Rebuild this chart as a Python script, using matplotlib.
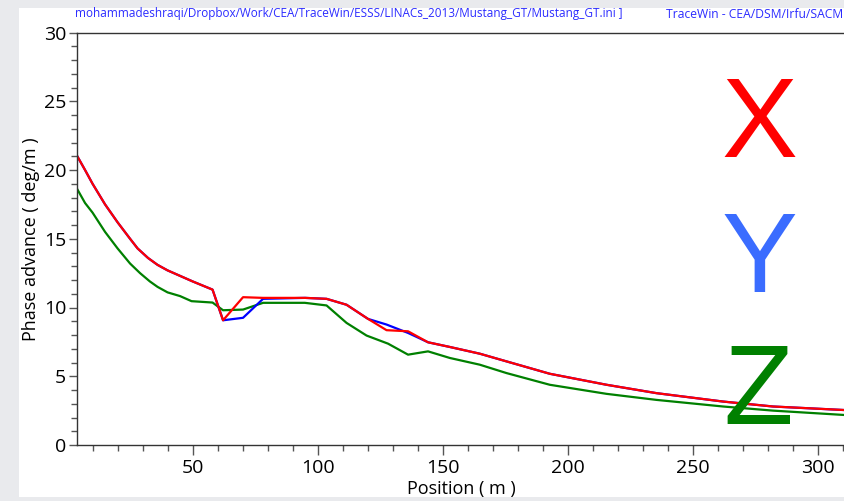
import matplotlib
matplotlib.use('Agg')
import matplotlib.pyplot as plt
import matplotlib.ticker as ticker
from matplotlib.patches import Rectangle

# phase advance per plane
pos_x = [3.9, 7, 10, 15, 20, 25, 28, 32.2, 36, 40, 45, 50, 58, 62.2, 70.2, 78.2, 95, 103.6,
         111.6, 120.2, 127.6, 136.2, 144.2, 152.9, 164.9, 175.6, 192.9, 215.6, 235.6,
         262.2, 282.2, 311]
phase_x = [21.0, 20.0, 19.0, 17.5, 16.2, 15.0, 14.3, 13.6, 13.1, 12.7, 12.3, 11.9, 11.3,
           9.07, 10.75, 10.7, 10.7, 10.63, 10.2, 9.17, 8.35, 8.27, 7.47, 7.13, 6.64, 6.08,
           5.18, 4.38, 3.77, 3.16, 2.80, 2.54]

pos_y = [3.9, 7, 10, 15, 20, 25, 28, 32.2, 36, 40, 45, 50, 58, 62.2, 70.2, 78.2, 95, 103.6,
         111.6, 120.2, 127.6, 136.2, 144.2, 152.9, 164.9, 175.6, 192.9, 215.6, 235.6,
         262.2, 282.2, 311]
phase_y = [21.0, 20.0, 19.0, 17.5, 16.2, 15.0, 14.3, 13.6, 13.1, 12.7, 12.3, 11.9, 11.3,
           9.07, 9.25, 10.63, 10.7, 10.63, 10.2, 9.17, 8.76, 8.15, 7.47, 7.13, 6.64, 6.08,
           5.18, 4.38, 3.77, 3.16, 2.80, 2.54]

pos_z = [3.9, 7, 10, 15, 20, 25, 29, 32.9, 36, 40, 45, 49.6, 58, 62.2, 70.2, 78.2, 94.9,
         103.6, 111.6, 119.6, 128.2, 136.2, 144.2, 152.9, 164.9, 175.6, 192.9, 215.6,
         235.6, 262.2, 282.2, 311]
phase_z = [18.6, 17.6, 16.9, 15.5, 14.3, 13.2, 12.5, 11.9, 11.5, 11.1, 10.83, 10.46, 10.36,
           9.80, 9.85, 10.34, 10.34, 10.15, 8.88, 7.96, 7.37, 6.57, 6.81, 6.33, 5.84, 5.23,
           4.38, 3.72, 3.28, 2.80, 2.50, 2.18]

header_left = 'mohammadeshraqi/Dropbox/Work/CEA/TraceWin/ESSS/LINACs_2013/Mustang_GT/Mustang_GT.ini ]'
header_right = 'TraceWin - CEA/DSM/Irfu/SACM'

W, H = 844, 501
fig = plt.figure(figsize=(W / 100, H / 100), dpi=100, facecolor='#e9eaed')
# white panel of the screenshot
fig.patches.append(Rectangle((19 / W, 1 - 497 / H), 1, (497 - 8) / H,
                             transform=fig.transFigure, facecolor='white',
                             edgecolor='none', zorder=-1))

x0, x1 = 77.3, 846
ax = fig.add_axes([x0 / W, 1 - 445 / H, (x1 - x0) / W, (445 - 32.5) / H])
ax.set_zorder(2)
ax.set_facecolor('none')
ax.set_xlim(3.9, 3.9 + (x1 - x0) / 2.5)
ax.set_ylim(0, 30)

ax.plot(pos_z, phase_z, color='#008000', lw=1.6)
ax.plot(pos_y, phase_y, color='#0000ff', lw=1.6)
ax.plot(pos_x, phase_x, color='#ff0000', lw=1.6)

ax.spines['right'].set_visible(False)
for s in ['left', 'bottom', 'top']:
  ax.spines[s].set_color('#333333')
  ax.spines[s].set_linewidth(1)

ax.xaxis.set_major_locator(ticker.MultipleLocator(50))
ax.xaxis.set_minor_locator(ticker.MultipleLocator(10))
ax.yaxis.set_major_locator(ticker.MultipleLocator(5))
ax.yaxis.set_minor_locator(ticker.MultipleLocator(1))
ax.tick_params(axis='x', which='both', direction='out', length=4, width=1, color='#555555',
               labelsize=14, pad=3)
ax.tick_params(axis='x', which='major', length=7)
ax.tick_params(axis='y', which='both', direction='out', length=4, width=1, color='#555555',
               labelsize=14, pad=2)
ax.tick_params(axis='y', which='major', length=6)
for lab in ax.get_xticklabels() + ax.get_yticklabels():
  lab.set_family('Open Sans')

ax.set_xlabel('Position ( m )', fontsize=13, family='Open Sans', labelpad=2)
ax.set_ylabel('Phase advance ( deg/m )', fontsize=13, family='Open Sans', labelpad=3)

fig.text(75 / W, 1 - 14 / H, header_left, color='#2b2bff', fontsize=8.5,
         family='Open Sans', va='center', ha='left')
fig.text(666 / W, 1 - 14 / H, header_right, color='#2b2bff', fontsize=8.7,
         family='Open Sans', va='center', ha='left')

fig.text(759 / W, 1 - 128 / H, 'X', color='#ff0000', fontsize=82,
         family='Liberation Sans', ha='center', va='center')
fig.text(759 / W, 1 - 263 / H, 'Y', color='#3a6cff', fontsize=82,
         family='Liberation Sans', ha='center', va='center')
fig.text(758 / W, 1 - 395 / H, 'Z', color='#008000', fontsize=82,
         family='Liberation Sans', ha='center', va='center')

fig.savefig('out.png', dpi=100, facecolor=fig.get_facecolor())
